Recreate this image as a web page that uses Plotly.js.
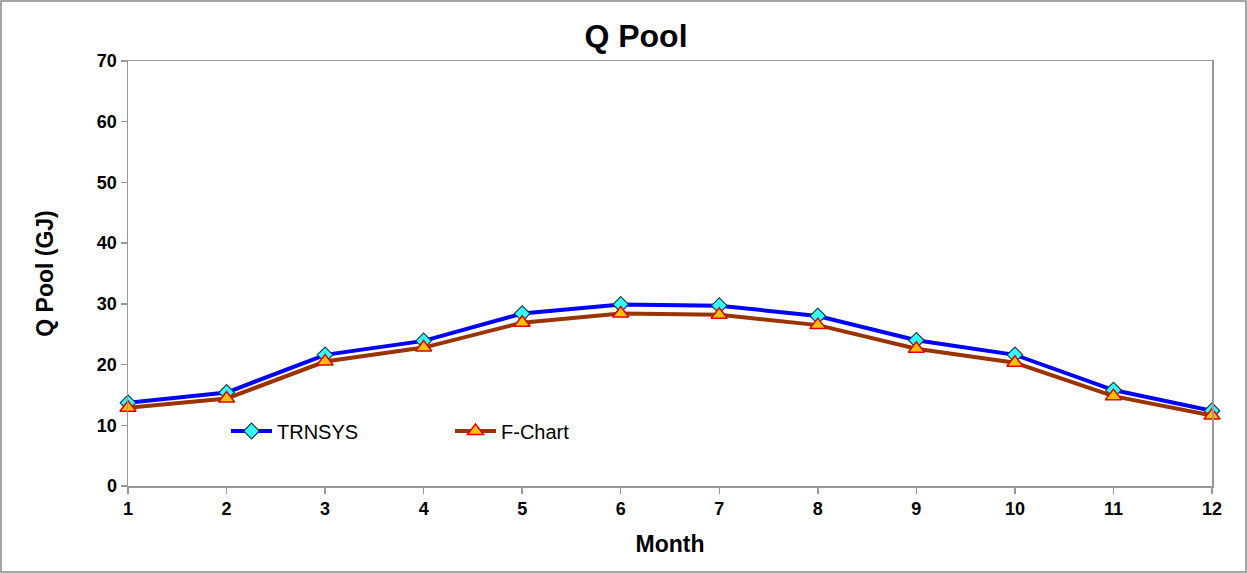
<!DOCTYPE html>
<html>
<head>
<meta charset="utf-8">
<script src="https://cdn.plot.ly/plotly-3.0.1.min.js"></script>
<style>html,body{margin:0;padding:0;background:#fff;}#chart{width:1247px;height:573px;}</style>
</head>
<body>
<div id="chart"></div>
<script>
const months = [1,2,3,4,5,6,7,8,9,10,11,12];
const trnsys = [13.7,15.4,21.6,23.9,28.4,29.9,29.7,28.0,24.0,21.6,15.8,12.4];
const fchart = [12.9,14.4,20.5,22.8,26.9,28.4,28.2,26.5,22.6,20.3,14.8,11.6];
const yTicks = [0,10,20,30,40,50,60,70];

const W = 1247, H = 573;
const mL = 128, mR = 35, mT = 61, mB = 87;
const pw = W - mL - mR, ph = H - mT - mB;
const FF = 'Liberation Sans, Arial, sans-serif';

const traces = [
  {x: months, y: trnsys, name: 'TRNSYS', type: 'scatter', mode: 'lines+markers', cliponaxis: false,
   line: {color: '#0000FF', width: 4},
   marker: {symbol: 'diamond', size: 12, color: '#33FFFF', line: {color: '#1F3A4A', width: 1.2}}},
  {x: months, y: fchart, name: 'F-Chart', type: 'scatter', mode: 'lines+markers', cliponaxis: false,
   line: {color: '#993300', width: 4},
   marker: {symbol: 'triangle-up', size: 14, color: '#FFC000', line: {color: '#E00000', width: 1.5}}}
];

const layout = {
  width: W, height: H,
  margin: {l: mL, r: mR, t: mT, b: mB},
  paper_bgcolor: '#fff', plot_bgcolor: '#fff',
  font: {family: FF, color: '#000'},
  title: {text: 'Q Pool', font: {size: 32, family: FF, weight: 'bold'}, x: 636/W, xanchor: 'center', y: 1 - 36/H, yanchor: 'middle'},
  xaxis: {range: [1, 12], tickvals: months, ticktext: months.map(String), showgrid: false, zeroline: false,
    showline: true, linecolor: '#999', linewidth: 1.5, mirror: true,
    ticks: 'outside', ticklen: 6, tickcolor: '#999', tickwidth: 1.5,
    tickfont: {size: 18, family: FF, weight: 'bold'},
    title: {text: 'Month', font: {size: 23, family: FF, weight: 'bold'}, standoff: 18}},
  yaxis: {range: [0, 70], tickvals: yTicks, showgrid: false, zeroline: false,
    showline: true, linecolor: '#999', linewidth: 1.5, mirror: true,
    ticks: 'outside', ticklen: 6, tickcolor: '#999', tickwidth: 1.5,
    tickfont: {size: 18, family: FF, weight: 'bold'},
    title: {text: 'Q Pool (GJ)', font: {size: 23, family: FF, weight: 'bold'}, standoff: 37}},
  showlegend: true,
  legend: {orientation: 'h', x: (226 - mL)/pw, xanchor: 'left', y: (486 - 431)/ph, yanchor: 'middle',
    bgcolor: 'rgba(0,0,0,0)', font: {size: 20, family: FF},
    itemwidth: 41, entrywidth: 168, entrywidthmode: 'pixels'},
  shapes: [
    {type: 'rect', xref: 'paper', yref: 'paper',
     x0: (-mL + 1)/pw, x1: (pw + mR - 1)/pw, y0: (-mB + 1)/ph, y1: (ph + mT - 1)/ph,
     line: {color: '#888', width: 1.5}, fillcolor: 'rgba(0,0,0,0)', layer: 'below'}
  ]
};

Plotly.newPlot('chart', traces, layout, {displayModeBar: false, staticPlot: true});
</script>
</body>
</html>
